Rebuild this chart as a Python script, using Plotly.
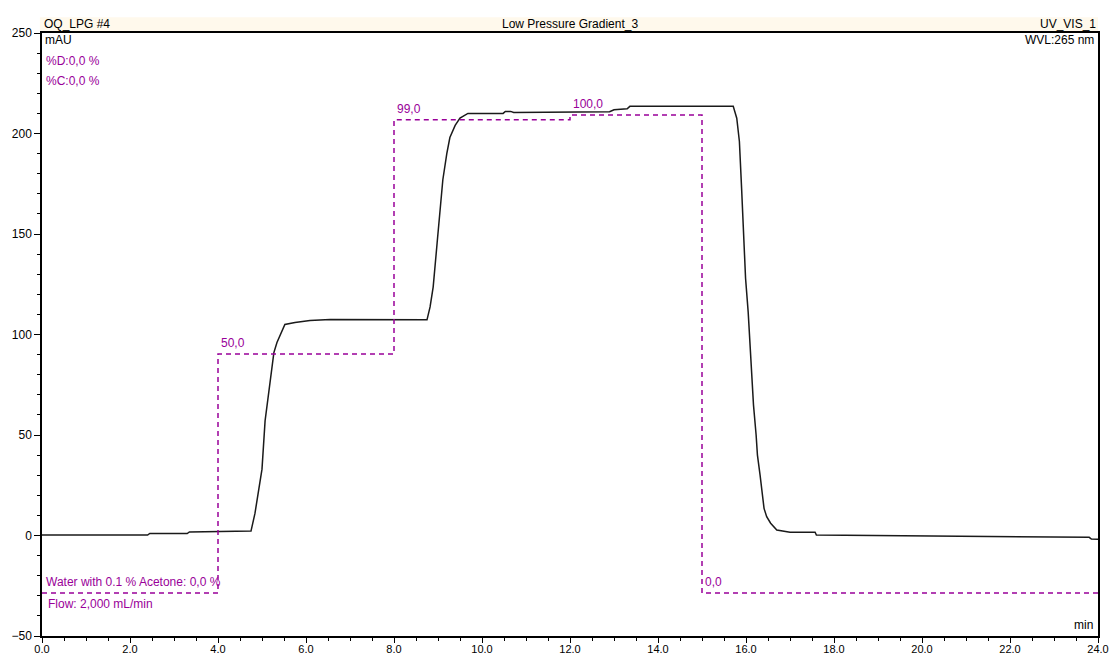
import plotly.graph_objects as go

# UV signal (min, mAU)
time_min = [0.0, 2.4, 2.45, 3.3, 3.35, 4.75, 4.84, 5.0, 5.07, 5.18, 5.27, 5.34,
            5.52, 5.75, 6.09, 6.55, 8.75, 8.82, 8.89, 8.98, 9.05, 9.11, 9.2,
            9.27, 9.39, 9.5, 9.68, 10.48, 10.53, 10.65, 10.72, 11.5, 12.6,
            12.9, 13.0, 13.3, 13.36, 15.71, 15.79, 15.85, 15.9, 15.94, 15.99,
            16.05, 16.09, 16.13, 16.17, 16.23, 16.26, 16.32, 16.36, 16.41,
            16.47, 16.56, 16.7, 17.0, 17.57, 17.6, 23.8, 23.85, 24.0]
signal_mau = [0.2, 0.2, 1.0, 1.0, 1.8, 2.2, 11.0, 33.0, 57.0, 76.0, 91.0, 96.0,
              105.0, 106.0, 107.0, 107.5, 107.3, 113.7, 123.6, 145.5, 162.0, 177.0, 190.0,
              198.0, 204.0, 207.7, 210.0, 210.0, 211.0, 211.0, 210.5, 210.6, 210.6,
              210.8, 211.8, 212.3, 213.5, 213.5, 207.6, 196.0, 172.7, 151.0, 128.0,
              111.0, 96.4, 83.0, 65.0, 50.0, 40.0, 30.0, 21.8, 13.5,
              9.4, 6.1, 2.7, 1.6, 1.6, 0.2, -0.9, -1.8, -1.9]

# gradient program (% B)
grad_time = [0.0, 4.0, 4.0, 8.0, 8.0, 12.0, 12.0, 15.0, 15.0, 24.0]
grad_pct = [0, 0, 50, 50, 99, 99, 100, 100, 0, 0]
step_time = [4.0, 8.0, 12.0, 15.0]
step_pct = [50, 99, 100, 0]
step_label = ["50,0", "99,0", "100,0", "0,0"]

PURPLE = "#990099"
FONT = "Liberation Sans, Arial, sans-serif"

fig = go.Figure()

fig.add_trace(go.Scatter(
    x=grad_time, y=grad_pct, yaxis="y2", mode="lines",
    line=dict(color=PURPLE, width=1.5, dash="5px,4px"),
    hoverinfo="skip", showlegend=False
))

fig.add_trace(go.Scatter(
    x=time_min, y=signal_mau, mode="lines",
    line=dict(color="#1a1a1a", width=1.5),
    showlegend=False
))

annotations = []
for t, p, lab in zip(step_time, step_pct, step_label):
    annotations.append(dict(x=t, y=p, xref="x", yref="y2", text=lab,
                            showarrow=False, xanchor="left", yanchor="bottom",
                            xshift=1, yshift=2,
                            font=dict(color=PURPLE, size=12, family=FONT)))

# header bar texts
for txt, xx, anc in [("OQ_LPG #4", 0, "left"),
                     ("Low Pressure Gradient_3", 0.5, "center"),
                     ("UV_VIS_1", 1, "right")]:
    annotations.append(dict(x=xx, y=1, xref="paper", yref="paper", text=txt,
                            showarrow=False, xanchor=anc, yanchor="bottom",
                            yshift=0, font=dict(color="black", size=12, family=FONT)))

# in-plot labels
annotations += [
    dict(x=0, y=1, xref="paper", yref="paper", text="mAU", showarrow=False,
         xanchor="left", yanchor="top", xshift=1, yshift=2,
         font=dict(color="black", size=12, family=FONT)),
    dict(x=1, y=1, xref="paper", yref="paper", text="WVL:265 nm", showarrow=False,
         xanchor="right", yanchor="top", xshift=-2, yshift=2,
         font=dict(color="black", size=12, family=FONT)),
    dict(x=0, y=1, xref="paper", yref="paper", text="%D:0,0 %", showarrow=False,
         xanchor="left", yanchor="top", xshift=2, yshift=-19,
         font=dict(color=PURPLE, size=12, family=FONT)),
    dict(x=0, y=1, xref="paper", yref="paper", text="%C:0,0 %", showarrow=False,
         xanchor="left", yanchor="top", xshift=2, yshift=-39,
         font=dict(color=PURPLE, size=12, family=FONT)),
    dict(x=0, y=0, xref="paper", yref="y2", text="Water with 0.1 % Acetone: 0,0 %",
         showarrow=False, xanchor="left", yanchor="bottom", xshift=2, yshift=2,
         font=dict(color=PURPLE, size=12, family=FONT)),
    dict(x=0, y=0, xref="paper", yref="y2", text="Flow: 2,000 mL/min",
         showarrow=False, xanchor="left", yanchor="top", xshift=4, yshift=-2,
         font=dict(color=PURPLE, size=12, family=FONT)),
    dict(x=1, y=0, xref="paper", yref="paper", text="min", showarrow=False,
         xanchor="right", yanchor="bottom", xshift=-3, yshift=2,
         font=dict(color="black", size=12, family=FONT)),
]

fig.update_layout(
    width=1109, height=656,
    margin=dict(l=42, r=11, t=33, b=20),
    paper_bgcolor="white", plot_bgcolor="white",
    font=dict(family=FONT, size=12, color="black"),
    annotations=annotations,
    shapes=[dict(type="rect", xref="paper", yref="paper", x0=-0.002, x1=1,
                 y0=1, y1=1.026, fillcolor="#fff9ec", line=dict(width=0),
                 layer="below")],
    xaxis=dict(range=[0, 24], dtick=2, tick0=0, tickformat=".1f", automargin=False,
               showgrid=False, zeroline=False, showline=True, linecolor="black",
               linewidth=1.5, mirror=True, ticks="outside", ticklen=5,
               tickcolor="black", tickfont=dict(size=11), ticklabelstandoff=-3,
               minor=dict(dtick=0.5, ticks="outside", ticklen=3, tickcolor="black")),
    yaxis=dict(range=[-50, 250], dtick=50, tick0=0, automargin=False,
               showgrid=False, zeroline=False, showline=True, linecolor="black",
               linewidth=1.5, mirror=True, ticks="outside", ticklen=6,
               tickcolor="black", tickfont=dict(size=12),
               minor=dict(dtick=10, ticks="outside", ticklen=3, tickcolor="black")),
    yaxis2=dict(range=[-9.0, 117.15], overlaying="y", visible=False),
)

fig.write_html("out.html", config={"displayModeBar": False},
               post_script="document.body.style.margin='0';")
